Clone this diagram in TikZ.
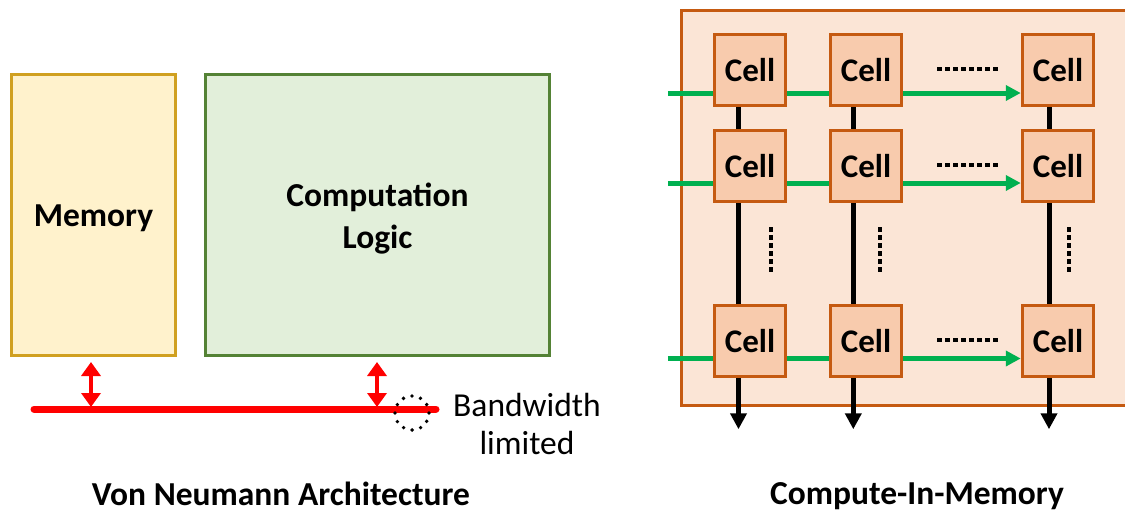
\documentclass[tikz,border=0pt]{standalone}
\usepackage{fontspec}
\setmainfont{Carlito}
\usetikzlibrary{arrows.meta,calc}
\definecolor{memfill}{HTML}{FFF2CC}
\definecolor{memdraw}{HTML}{D0A020}
\definecolor{compfill}{HTML}{E2EFDA}
\definecolor{compdraw}{HTML}{548235}
\definecolor{cimfill}{HTML}{FBE5D6}
\definecolor{cimdraw}{HTML}{C55A11}
\definecolor{cellfill}{HTML}{F8CBAD}
\definecolor{gr}{HTML}{00B050}
\definecolor{bus}{HTML}{FF0000}
\tikzset{
  bigbox/.style={draw, line width=3pt, inner sep=0pt},
  boxtext/.style={align=center, font=\fontsize{33.5}{42}\selectfont\bfseries},
  cellbox/.style={draw=cimdraw, fill=cellfill, line width=3.5pt, minimum width=71pt,
    minimum height=71pt, inner sep=0pt, font=\fontsize{33}{38}\selectfont\bfseries},
  grarrow/.style={draw=gr, line width=5pt},
  blk/.style={draw=black, line width=5pt},
  redarrow/.style={draw=bus, line width=4.5pt, {Triangle[length=14pt,width=19pt]}-{Triangle[length=14pt,width=19pt]}},
  hdots/.style={line width=3.5pt, dash pattern=on 4.5pt off 3.5pt},
  label/.style={font=\fontsize{33.5}{38}\selectfont, align=center},
  title/.style={font=\fontsize{33.5}{38}\selectfont\bfseries}
}
\begin{document}
\begin{tikzpicture}[x=1pt,y=-1pt]
\useasboundingbox (0,0) rectangle (1125,514);
% ---------- Von Neumann ----------
\node[bigbox, draw=memdraw, fill=memfill, minimum width=164pt, minimum height=281pt] (mem) at (93.5,215) {};
\node[boxtext] (memt) at ($(mem.center)+(0,3)$) {Memory};
\node[bigbox, draw=compdraw, fill=compfill, minimum width=344pt, minimum height=281pt] (comp) at (377.5,215) {};
\node[boxtext] (compt) at ($(comp.center)+(0,3.5)$) {Computation\\Logic};
\coordinate (busL) at (34,409);
\coordinate (busR) at (436,409);
\draw[bus, line width=7pt, line cap=round] (busL) -- (busR);
\coordinate (m1) at (91,362);
\coordinate (m2) at (91,407);
\coordinate (c1) at (377,362);
\coordinate (c2) at (377,407);
\draw[redarrow] (m1) -- (m2);
\draw[redarrow] (c1) -- (c2);
\node[circle, draw=black, line width=3.8pt, dash pattern=on 0pt off 8.9pt, line cap=round, minimum size=34pt, inner sep=0pt] (bw) at (412,413) {};
\node[label] (bwtext) at (527,424) {Bandwidth\\limited};
\node[title] (vn) at (281,494) {Von Neumann Architecture};
% ---------- Compute-In-Memory ----------
\node[draw=cimdraw, fill=cimfill, line width=3pt, minimum width=448.5pt, minimum height=395pt, inner sep=0pt] (cim) at (905.75,208) {};
\foreach \r/\y in {1/70,2/166,3/341}{
  \foreach \c/\x in {1/750,2/866,3/1058}{
    \node[cellbox] (c\r\c) at (\x,\y) {Cell};
  }
}
% green row arrows
\foreach \r/\dy in {1/23,2/17,3/17.5}{
  \coordinate (g\r) at ($(c\r1.west)+(-45,\dy)$);
  \draw[grarrow] (g\r) -- ($(c\r1.west)+(0,\dy)$);
  \draw[grarrow] ($(c\r1.east)+(0,\dy)$) -- ($(c\r2.west)+(0,\dy)$);
  \draw[grarrow, -{Triangle[length=15pt,width=15pt]}] ($(c\r2.east)+(0,\dy)$) -- ($(c\r3.west)+(0,\dy)$);
}
% black column lines
\foreach \c/\dx in {1/-11.5,2/-12.7,3/-9}{
  \draw[blk] ($(c1\c.south)+(\dx,0)$) -- ($(c2\c.north)+(\dx,0)$);
  \draw[blk] ($(c2\c.south)+(\dx,0)$) -- ($(c3\c.north)+(\dx,0)$);
  \coordinate (out\c) at ($(c3\c.south)+(\dx,51)$);
  \draw[blk, -{Triangle[length=16pt,width=16pt]}] ($(c3\c.south)+(\dx,0)$) -- (out\c);
}
% ellipses
\foreach \y in {69,165,340}{
  \draw[hdots] (937,\y) -- (999,\y);
}
\foreach \x in {771,880,1069}{
  \draw[hdots] (\x,227) -- (\x,273);
}
\node[title] (cimt) at (917,496) {Compute-In-Memory};
\end{tikzpicture}
\end{document}
